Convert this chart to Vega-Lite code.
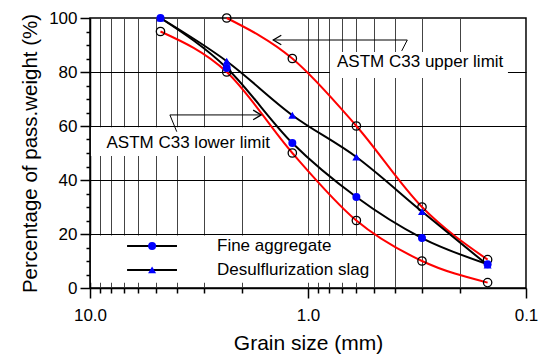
{
  "$schema": "https://vega.github.io/schema/vega-lite/v6.json",
  "width": 436,
  "height": 270,
  "autosize": "none",
  "padding": {"left": 90, "top": 18, "right": 18, "bottom": 70},
  "config": {
    "font": "Liberation Sans",
    "view": {"stroke": "black", "strokeWidth": 1.5},
    "axis": {"labelColor": "black", "titleColor": "black", "titleFontWeight": "normal", "tickColor": "black", "domainColor": "black"}
  },
  "datasets": {
    "pts": [
      {"size": 2.36, "pct": 100, "series": "upper"},
      {"size": 1.18, "pct": 85, "series": "upper"},
      {"size": 0.6, "pct": 60, "series": "upper"},
      {"size": 0.3, "pct": 30, "series": "upper"},
      {"size": 0.15, "pct": 10.5, "series": "upper"},
      {"size": 4.75, "pct": 95, "series": "lower"},
      {"size": 2.36, "pct": 80, "series": "lower"},
      {"size": 1.18, "pct": 50, "series": "lower"},
      {"size": 0.6, "pct": 25, "series": "lower"},
      {"size": 0.3, "pct": 10, "series": "lower"},
      {"size": 0.15, "pct": 2, "series": "lower"},
      {"size": 4.75, "pct": 100, "series": "Fine aggregate"},
      {"size": 2.36, "pct": 81.5, "series": "Fine aggregate"},
      {"size": 1.18, "pct": 53.7, "series": "Fine aggregate"},
      {"size": 0.6, "pct": 33.7, "series": "Fine aggregate"},
      {"size": 0.3, "pct": 18.5, "series": "Fine aggregate"},
      {"size": 0.15, "pct": 8.8, "series": "Fine aggregate"},
      {"size": 4.75, "pct": 100, "series": "Desulflurization slag"},
      {"size": 2.36, "pct": 84, "series": "Desulflurization slag"},
      {"size": 1.18, "pct": 64, "series": "Desulflurization slag"},
      {"size": 0.6, "pct": 48.5, "series": "Desulflurization slag"},
      {"size": 0.3, "pct": 28.3, "series": "Desulflurization slag"},
      {"size": 0.15, "pct": 8.5, "series": "Desulflurization slag"}
    ],
    "boxes": [
      {"x": 9.9, "x2": 1.344, "y": 48.9, "y2": 59.5},
      {"x": 0.793, "x2": 0.121, "y": 77.8, "y2": 87.4},
      {"x": 9.9, "x2": 0.51, "y": 1.9, "y2": 19.4}
    ],
    "leaders": [
      {"x": 4.0, "y": 57.9, "grp": "lo", "o": 0},
      {"x": 4.3, "y": 64.1, "grp": "lo", "o": 1},
      {"x": 1.64, "y": 64.1, "grp": "lo", "o": 2},
      {"x": 0.3717, "y": 87.8, "grp": "up", "o": 0},
      {"x": 0.3503, "y": 91.85, "grp": "up", "o": 1},
      {"x": 1.443, "y": 91.85, "grp": "up", "o": 2}
    ],
    "notes": [
      {"x": 8.4, "y": 53.8, "txt": "ASTM C33 lower limit"},
      {"x": 0.736, "y": 83.6, "txt": "ASTM C33 upper limit"}
    ],
    "legend": [
      {"series": "Fine aggregate", "x": 6.76, "x2": 3.99, "xm": 5.19, "xt": 2.615, "y": 15.6},
      {"series": "Desulflurization slag", "x": 6.76, "x2": 3.99, "xm": 5.19, "xt": 2.615, "y": 6.7}
    ]
  },
  "encoding": {
    "x": {
      "field": "size", "type": "quantitative",
      "scale": {"type": "log", "domain": [0.1, 10], "nice": false, "reverse": true},
      "axis": {
        "title": "Grain size (mm)",
        "values": [10, 9, 8, 7, 6, 5, 4, 3, 2, 1, 0.9, 0.8, 0.7, 0.6, 0.5, 0.4, 0.3, 0.2, 0.1],
        "labelExpr": "datum.value == 10 ? '10.0' : (datum.value == 1 ? '1.0' : (datum.value == 0.1 ? '0.1' : ''))",
        "labelFlush": false, "labelOverlap": false,
        "grid": true, "gridColor": "#444444", "gridWidth": 1,
        "tickWidth": 1.5,
        "tickSize": {"condition": {"test": "datum.value == 10 || datum.value == 1 || datum.value == 0.1", "value": 10}, "value": 5},
        "domainWidth": 1.5,
        "labelFontSize": 17, "labelPadding": 9,
        "titleFontSize": 21, "titlePadding": 9
      }
    },
    "y": {
      "field": "pct", "type": "quantitative",
      "scale": {"domain": [0, 100], "nice": false},
      "axis": {
        "title": "Percentage of pass.weight (%)",
        "values": [0, 5, 10, 15, 20, 25, 30, 35, 40, 45, 50, 55, 60, 65, 70, 75, 80, 85, 90, 95, 100],
        "labelExpr": "datum.value % 20 == 0 ? datum.label : ''",
        "grid": true, "gridColor": "black", "gridWidth": 1,
        "gridOpacity": {"condition": {"test": "datum.value % 20 == 0 && datum.value > 0 && datum.value < 100", "value": 1}, "value": 0},
        "tickWidth": 1.5,
        "tickSize": {"condition": {"test": "datum.value % 20 == 0", "value": 10}, "value": 4},
        "domainWidth": 1.5,
        "labelFontSize": 17, "labelPadding": 3,
        "titleFontSize": 20.5, "titlePadding": 8
      }
    }
  },
  "layer": [
    {
      "data": {"name": "boxes"},
      "mark": {"type": "rect", "fill": "white", "stroke": null},
      "encoding": {
        "x": {"field": "x", "type": "quantitative"},
        "x2": {"field": "x2"},
        "y": {"field": "y", "type": "quantitative"},
        "y2": {"field": "y2"}
      }
    },
    {
      "data": {"name": "pts"},
      "transform": [{"filter": "datum.series == 'upper' || datum.series == 'lower'"}],
      "mark": {"type": "line", "color": "#ff0000", "strokeWidth": 2, "interpolate": "monotone"},
      "encoding": {"detail": {"field": "series"}}
    },
    {
      "data": {"name": "pts"},
      "transform": [{"filter": "datum.series != 'upper' && datum.series != 'lower'"}],
      "mark": {"type": "line", "color": "black", "strokeWidth": 2, "interpolate": "monotone"},
      "encoding": {"detail": {"field": "series"}}
    },
    {
      "data": {"name": "pts"},
      "transform": [{"filter": "datum.series == 'upper' || datum.series == 'lower'"}],
      "mark": {"type": "point", "shape": "circle", "filled": false, "stroke": "black", "strokeWidth": 1.3, "size": 70, "opacity": 1}
    },
    {
      "data": {"name": "pts"},
      "transform": [{"filter": "datum.series != 'upper' && datum.series != 'lower'"}],
      "mark": {"type": "point", "filled": true, "color": "#0000ff", "size": 64, "opacity": 1},
      "encoding": {
        "shape": {"field": "series", "type": "nominal", "scale": {"domain": ["Fine aggregate", "Desulflurization slag"], "range": ["circle", "triangle-up"]}, "legend": null}
      }
    },
    {
      "data": {"name": "leaders"},
      "mark": {"type": "line", "color": "black", "strokeWidth": 1},
      "encoding": {
        "x": {"field": "x", "type": "quantitative"},
        "y": {"field": "y", "type": "quantitative"},
        "detail": {"field": "grp"},
        "order": {"field": "o", "type": "quantitative"}
      }
    },
    {
      "data": {"name": "leaders"},
      "transform": [{"filter": "datum.grp == 'lo' && datum.o == 2"}],
      "mark": {"type": "point", "shape": "M-2,-1.2L0,0L-2,1.2", "filled": false, "stroke": "black", "strokeWidth": 1.3, "size": 64, "opacity": 1},
      "encoding": {
        "x": {"field": "x", "type": "quantitative"},
        "y": {"field": "y", "type": "quantitative"}
      }
    },
    {
      "data": {"name": "leaders"},
      "transform": [{"filter": "datum.grp == 'up' && datum.o == 2"}],
      "mark": {"type": "point", "shape": "M2,-1.2L0,0L2,1.2", "filled": false, "stroke": "black", "strokeWidth": 1.3, "size": 64, "opacity": 1},
      "encoding": {
        "x": {"field": "x", "type": "quantitative"},
        "y": {"field": "y", "type": "quantitative"}
      }
    },
    {
      "data": {"name": "notes"},
      "mark": {"type": "text", "align": "left", "baseline": "middle", "fontSize": 17, "color": "black"},
      "encoding": {
        "x": {"field": "x", "type": "quantitative"},
        "y": {"field": "y", "type": "quantitative"},
        "text": {"field": "txt"}
      }
    },
    {
      "data": {"name": "legend"},
      "mark": {"type": "rule", "color": "black", "strokeWidth": 2},
      "encoding": {
        "x": {"field": "x", "type": "quantitative"},
        "x2": {"field": "x2"},
        "y": {"field": "y", "type": "quantitative"}
      }
    },
    {
      "data": {"name": "legend"},
      "mark": {"type": "point", "filled": true, "color": "#0000ff", "size": 64, "opacity": 1},
      "encoding": {
        "x": {"field": "xm", "type": "quantitative"},
        "y": {"field": "y", "type": "quantitative"},
        "shape": {"field": "series", "type": "nominal", "scale": {"domain": ["Fine aggregate", "Desulflurization slag"], "range": ["circle", "triangle-up"]}, "legend": null}
      }
    },
    {
      "data": {"name": "legend"},
      "mark": {"type": "text", "align": "left", "baseline": "middle", "fontSize": 17, "color": "black"},
      "encoding": {
        "x": {"field": "xt", "type": "quantitative"},
        "y": {"field": "y", "type": "quantitative"},
        "text": {"field": "series"}
      }
    }
  ]
}
